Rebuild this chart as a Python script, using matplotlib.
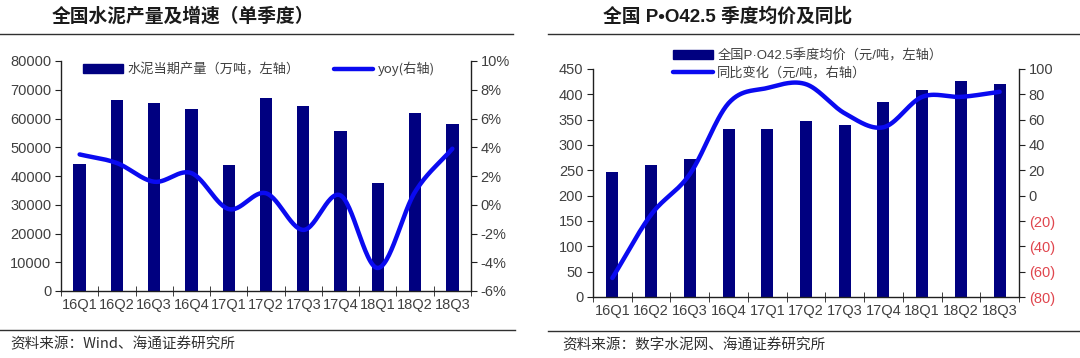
import numpy as np
import matplotlib
matplotlib.use("Agg")
import matplotlib.pyplot as plt
from matplotlib.lines import Line2D
from matplotlib.patches import Patch

plt.rcParams['font.family'] = ['Liberation Sans', 'Noto Sans CJK SC', 'DejaVu Sans']

categories = ["16Q1", "16Q2", "16Q3", "16Q4", "17Q1", "17Q2", "17Q3", "17Q4", "18Q1", "18Q2", "18Q3"]
output_wt = [44200, 66400, 65400, 63300, 43700, 67000, 64300, 55500, 37400, 61800, 58100]
yoy_pct = [3.5, 2.9, 1.6, 2.2, -0.3, 0.8, -1.75, 0.65, -4.4, 0.9, 3.9]
price = [246, 261, 273, 331, 331, 348, 340, 385, 408, 427, 421]
price_chg = [-65, -15, 17, 73, 85, 88, 65, 54, 78, 78, 82]

left_yticks = [0, 10000, 20000, 30000, 40000, 50000, 60000, 70000, 80000]
left_rticks = [-6, -4, -2, 0, 2, 4, 6, 8, 10]
right_yticks = [0, 50, 100, 150, 200, 250, 300, 350, 400, 450]
right_rticks = [-80, -60, -40, -20, 0, 20, 40, 60, 80, 100]

NAVY = "#000080"
BLUE = "#0a0af0"
TXT = "#404040"
RED = "#e0464e"
CJK = ['Noto Sans CJK SC', 'DejaVu Sans']
MIX = ['Liberation Sans', 'Noto Sans CJK SC', 'DejaVu Sans']


def smooth(x, y, n=30):
    x = np.asarray(x, float); y = np.asarray(y, float)
    P = np.column_stack([x, y])
    P = np.vstack([2 * P[0] - P[1], P, 2 * P[-1] - P[-2]])
    out = []
    for i in range(1, len(P) - 2):
        p0, p1, p2, p3 = P[i - 1], P[i], P[i + 1], P[i + 2]
        t = np.linspace(0, 1, n, endpoint=False)[:, None]
        pts = 0.5 * ((2 * p1) + (-p0 + p2) * t + (2 * p0 - 5 * p1 + 4 * p2 - p3) * t ** 2
                     + (-p0 + 3 * p1 - 3 * p2 + p3) * t ** 3)
        out.append(pts)
    out.append(P[-2][None, :])
    out = np.vstack(out)
    return out[:, 0], out[:, 1]


def style_axes(ax, ax2):
    for a in (ax, ax2):
        a.spines['top'].set_visible(False)
        for s in ('left', 'right', 'bottom'):
            a.spines[s].set_color('#202020')
            a.spines[s].set_linewidth(1.0)
    ax.spines['right'].set_visible(False)
    ax2.spines['left'].set_visible(False)
    ax2.spines['bottom'].set_visible(False)
    ax.tick_params(axis='y', direction='out', length=4, colors='#202020', labelcolor=TXT, labelsize=10.5, pad=3)
    ax2.tick_params(axis='y', direction='out', length=4, colors='#202020', labelcolor=TXT, labelsize=10.5, pad=3)
    ax.tick_params(axis='x', which='major', length=0, labelcolor=TXT, labelsize=10.5, pad=5)
    ax.tick_params(axis='x', which='minor', direction='inout', length=7, colors='#202020')


fig = plt.figure(figsize=(10.8, 3.58), dpi=100)
W, H = 1080, 358

# ---------------- left chart ----------------
x = np.arange(len(categories))
ax = fig.add_axes([61 / W, (H - 291) / H, 410 / W, 230 / H])
ax2 = ax.twinx()
ax.bar(x, output_wt, width=0.33, color=NAVY, zorder=2)
sx, sy = smooth(x, yoy_pct)
ax2.plot(sx, sy, color=BLUE, lw=3.2, solid_capstyle='round', zorder=3)
ax.set_xlim(-0.5, len(categories) - 0.5)
ax.set_ylim(0, 80000)
ax.set_yticks(left_yticks)
ax.set_yticklabels([str(v) for v in left_yticks])
ax2.set_ylim(-6, 10)
ax2.set_yticks(left_rticks)
ax2.set_yticklabels([f"{v}%" for v in left_rticks])
ax.set_xticks(x)
ax.set_xticklabels(categories)
ax.set_xticks(np.arange(-0.5, len(categories)), minor=True)
style_axes(ax, ax2)
ax.set_zorder(ax2.get_zorder() - 1)
ax.patch.set_visible(False)
h1 = Patch(color=NAVY)
h2 = Line2D([], [], color=BLUE, lw=3.2, solid_capstyle='round')
fig.legend([h1, h2], ["水泥当期产量（万吨，左轴）", "yoy(右轴)"], loc='center left',
           bbox_to_anchor=(83 / W, 1 - 69 / H), ncol=2, frameon=False, borderpad=0,
           borderaxespad=0, prop={'family': CJK, 'size': 9.5}, handlelength=3.0, handleheight=0.7,
           columnspacing=2.6, handletextpad=0.35, labelcolor=TXT)

# ---------------- right chart ----------------
bx = fig.add_axes([593 / W, (H - 297) / H, 426 / W, 228 / H])
bx2 = bx.twinx()
bx.bar(x, price, width=0.31, color=NAVY, zorder=2)
sx, sy = smooth(x, price_chg)
bx2.plot(sx, sy, color=BLUE, lw=3.2, solid_capstyle='round', zorder=3)
bx.set_xlim(-0.5, len(categories) - 0.5)
bx.set_ylim(0, 450)
bx.set_yticks(right_yticks)
bx2.set_ylim(-80, 100)
bx2.set_yticks(right_rticks)
bx2.set_yticklabels([f"({-v})" if v < 0 else str(v) for v in right_rticks])
bx.set_xticks(x)
bx.set_xticklabels(categories)
bx.set_xticks(np.arange(-0.5, len(categories)), minor=True)
style_axes(bx, bx2)
for lab, v in zip(bx2.get_yticklabels(), right_rticks):
    if v < 0:
        lab.set_color(RED)
bx.set_zorder(bx2.get_zorder() - 1)
bx.patch.set_visible(False)
fig.legend([h1, h2], ["全国P·O42.5季度均价（元/吨，左轴）", "同比变化（元/吨，右轴）"], loc='upper left',
           bbox_to_anchor=(673 / W, 1 - 49 / H), ncol=1, frameon=False, borderpad=0,
           borderaxespad=0, prop={'family': MIX, 'size': 9.5}, handlelength=3.0, handleheight=0.7,
           labelspacing=0.3, handletextpad=0.35, labelcolor=TXT)

# ---------------- titles, rules, sources ----------------
fig.text(52 / W, 1 - 16 / H, "全国水泥产量及增速（单季度）", fontsize=13.5, fontweight='bold',
         family=CJK, va='center', ha='left', color='#1a1a1a')
fig.text(603 / W, 1 - 16 / H, "全国 P•O42.5 季度均价及同比", fontsize=13.5, fontweight='bold',
         family=MIX, va='center', ha='left', color='#1a1a1a')
for (x0, x1, yy) in [(0, 513, 34), (548, 1080, 34), (0, 515, 330), (548, 1080, 331)]:
    fig.add_artist(Line2D([x0 / W, x1 / W], [1 - yy / H, 1 - yy / H], color='#303030', lw=1.0))
fig.text(10 / W, 1 - 344 / H, "资料来源：Wind、海通证券研究所", fontsize=10.5, family=CJK,
         va='center', ha='left', color='#303030')
fig.text(562 / W, 1 - 345 / H, "资料来源：数字水泥网、海通证券研究所", fontsize=10.5, family=CJK,
         va='center', ha='left', color='#303030')

fig.savefig("out.png", dpi=100)
